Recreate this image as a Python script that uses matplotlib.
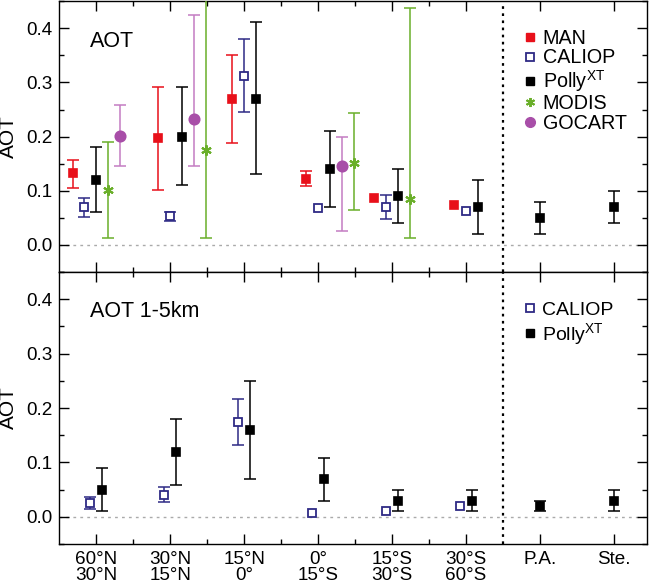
import numpy as np
import matplotlib
matplotlib.use("Agg")
import matplotlib.pyplot as plt
from matplotlib.lines import Line2D
from matplotlib.ticker import FixedLocator, MultipleLocator, FormatStrFormatter

plt.rcParams['font.family'] = ['Liberation Sans', 'DejaVu Sans']
plt.rcParams['mathtext.fontset'] = 'custom'
plt.rcParams['mathtext.rm'] = 'Liberation Sans'
plt.rcParams['mathtext.it'] = 'Liberation Sans:italic'

nan = np.nan

# ---------------- data ----------------
categories = ["60°N\n30°N", "30°N\n15°N", "15°N\n0°", "0°\n15°S",
              "15°S\n30°S", "30°S\n60°S", "P.A.", "Ste."]

# Top panel: total AOT  (value, lower error, upper error)
man_val = [0.132, 0.197, 0.269, 0.122, 0.087, 0.074, nan, nan]
man_elo = [0.026, 0.096, 0.081, 0.014, 0.0, 0.0, nan, nan]
man_ehi = [0.024, 0.095, 0.082, 0.014, 0.0, 0.0, nan, nan]

cal_val = [0.070, 0.054, 0.312, 0.069, 0.070, 0.062, nan, nan]
cal_elo = [0.018, 0.009, 0.066, 0.0, 0.023, 0.0, nan, nan]
cal_ehi = [0.017, 0.007, 0.068, 0.0, 0.023, 0.0, nan, nan]

pol_val = [0.120, 0.200, 0.270, 0.141, 0.091, 0.070, 0.050, 0.070]
pol_elo = [0.059, 0.090, 0.139, 0.071, 0.050, 0.050, 0.030, 0.030]
pol_ehi = [0.061, 0.091, 0.141, 0.070, 0.049, 0.050, 0.030, 0.030]

mod_val = [0.101, 0.176, nan, 0.152, 0.084, nan, nan, nan]
mod_elo = [0.088, 0.163, nan, 0.087, 0.071, nan, nan, nan]
mod_ehi = [0.089, 0.324, nan, 0.091, 0.353, nan, nan, nan]

goc_val = [0.201, 0.233, nan, 0.145, nan, nan, nan, nan]
goc_elo = [0.056, 0.088, nan, 0.120, nan, nan, nan, nan]
goc_ehi = [0.057, 0.191, nan, 0.055, nan, nan, nan, nan]

# Bottom panel: AOT 1-5 km
cal2_val = [0.026, 0.041, 0.174, 0.007, 0.010, 0.020, nan, nan]
cal2_err = [0.011, 0.013, 0.042, 0.0, 0.0, 0.0, nan, nan]

pol2_val = [0.050, 0.119, 0.159, 0.069, 0.030, 0.030, 0.020, 0.030]
pol2_err = [0.040, 0.060, 0.090, 0.040, 0.020, 0.020, 0.0095, 0.020]

# ---------------- positions (horizontal offsets in steps) ----------------
STEP = 0.16
man_off = [-2, -1, -1, -1, -1.5, -1, 0, 0]
cal_off = [-1, 0, 0, 0, -0.5, 0, 0, 0]
pol_off = [0, 1, 1, 1, 0.5, 1, 0, 0]
mod_off = [1, 3, 0, 3, 1.5, 0, 0, 0]
goc_off = [2, 2, 0, 2, 0, 0, 0, 0]
cal2_off = [-0.5] * 6 + [0, 0]
pol2_off = [0.5] * 6 + [0, 0]

# ---------------- styles ----------------
C_MAN = '#e8101a'
C_CAL = '#2e2a85'
C_POL = 'black'
C_MOD = '#6aaf2a'
C_GOC = '#a84ea8'
C_GOC_ERR = '#c47cc2'

MS_FILL = 6.0
MS_OPEN = 5.6

xpos = np.arange(1, len(categories) + 1)

fig = plt.figure(figsize=(6.51, 5.85), dpi=100)
L, R = 0.091, 0.994
ax1 = fig.add_axes([L, 0.535, R - L, 0.998 - 0.535])
ax2 = fig.add_axes([L, 0.070, R - L, 0.535 - 0.070])

TICKFS = 13.6


def draw_series(ax, val, elo, ehi, off, color, marker, ms, mfc, mew=1.2, ecolor=None, zo=3):
    ecolor = ecolor or color
    for i, v in enumerate(val):
        if np.isnan(v):
            continue
        x = xpos[i] + off[i] * STEP
        lo, hi = elo[i], ehi[i]
        if (lo and lo > 0) or (hi and hi > 0):
            ax.errorbar([x], [v], yerr=[[lo], [hi]], fmt='none', ecolor=ecolor,
                        elinewidth=1.1, capsize=4.0, capthick=1.1, zorder=zo)
        ax.plot([x], [v], linestyle='none', marker=marker, ms=ms, mfc=mfc,
                mec=color, mew=mew, zorder=zo + 1)


def style_axes(ax, show_xlabels):
    ax.set_xlim(0.5, 8.45)
    ax.set_ylim(-0.05, 0.45)
    ax.axhline(0, color='#aaaaaa', linestyle=(0, (2, 3)), linewidth=1.0, zorder=1)
    ax.axvline(6.5, color='black', linestyle=(0, (1.2, 2)), linewidth=1.6, zorder=2)
    ax.xaxis.set_major_locator(FixedLocator(xpos))
    ax.xaxis.set_minor_locator(FixedLocator([1.5, 2.5, 3.5, 4.5, 5.5]))
    ax.yaxis.set_major_locator(MultipleLocator(0.1))
    ax.yaxis.set_minor_locator(MultipleLocator(0.05))
    ax.yaxis.set_major_formatter(FormatStrFormatter('%.1f'))
    ax.tick_params(which='both', direction='in', top=True, right=True, width=1.0)
    ax.tick_params(which='major', length=7)
    ax.tick_params(which='minor', length=3.5)
    ax.tick_params(axis='y', labelsize=TICKFS, pad=5)
    ax.tick_params(axis='x', labelsize=TICKFS, pad=5)
    if show_xlabels:
        ax.set_xticklabels(categories, linespacing=0.95)
    else:
        ax.set_xticklabels([])
    for s in ax.spines.values():
        s.set_linewidth(1.0)
    ax.set_ylabel('AOT', fontsize=15)
    ax.yaxis.set_label_coords(-0.071, 0.5)


# Top panel
style_axes(ax1, False)
draw_series(ax1, man_val, man_elo, man_ehi, man_off, C_MAN, 's', MS_FILL, C_MAN)
draw_series(ax1, cal_val, cal_elo, cal_ehi, cal_off, C_CAL, 's', MS_OPEN, 'white', mew=1.3)
draw_series(ax1, pol_val, pol_elo, pol_ehi, pol_off, C_POL, 's', MS_FILL, C_POL)
draw_series(ax1, mod_val, mod_elo, mod_ehi, mod_off, C_MOD, (6, 2, 0), 7.5, C_MOD, mew=1.5)
draw_series(ax1, goc_val, goc_elo, goc_ehi, goc_off, C_GOC, 'o', 7.5, C_GOC, ecolor=C_GOC_ERR)
ax1.text(0.053, 0.85, 'AOT', transform=ax1.transAxes, fontsize=15.5, va='center', ha='left')

handles1 = [
    Line2D([], [], ls='none', marker='s', ms=5.5, mfc=C_MAN, mec=C_MAN),
    Line2D([], [], ls='none', marker='s', ms=5.2, mfc='white', mec=C_CAL, mew=1.3),
    Line2D([], [], ls='none', marker='s', ms=5.5, mfc=C_POL, mec=C_POL),
    Line2D([], [], ls='none', marker=(6, 2, 0), ms=6.5, mfc=C_MOD, mec=C_MOD, mew=1.4),
    Line2D([], [], ls='none', marker='o', ms=7.0, mfc=C_GOC, mec=C_GOC),
]
labels1 = ['MAN', 'CALIOP', 'Polly$^{\\mathrm{XT}}$', 'MODIS', 'GOCART']
ax1.legend(handles1, labels1, loc='upper left', bbox_to_anchor=(0.787, 0.897),
           frameon=False, fontsize=14.2, handlelength=0.8, handletextpad=0.25,
           labelspacing=0.02, borderaxespad=0, borderpad=0)

# Bottom panel
style_axes(ax2, True)
draw_series(ax2, cal2_val, cal2_err, cal2_err, cal2_off, C_CAL, 's', MS_OPEN, 'white', mew=1.3)
draw_series(ax2, pol2_val, pol2_err, pol2_err, pol2_off, C_POL, 's', MS_FILL, C_POL)
ax2.text(0.053, 0.855, 'AOT 1-5km', transform=ax2.transAxes, fontsize=15.5, va='center', ha='left')

handles2 = [handles1[1], handles1[2]]
labels2 = ['CALIOP', 'Polly$^{\\mathrm{XT}}$']
ax2.legend(handles2, labels2, loc='upper left', bbox_to_anchor=(0.787, 0.891),
           frameon=False, fontsize=14.0, handlelength=0.8, handletextpad=0.25,
           labelspacing=0.1, borderaxespad=0, borderpad=0)

fig.savefig('out.png', dpi=100)
